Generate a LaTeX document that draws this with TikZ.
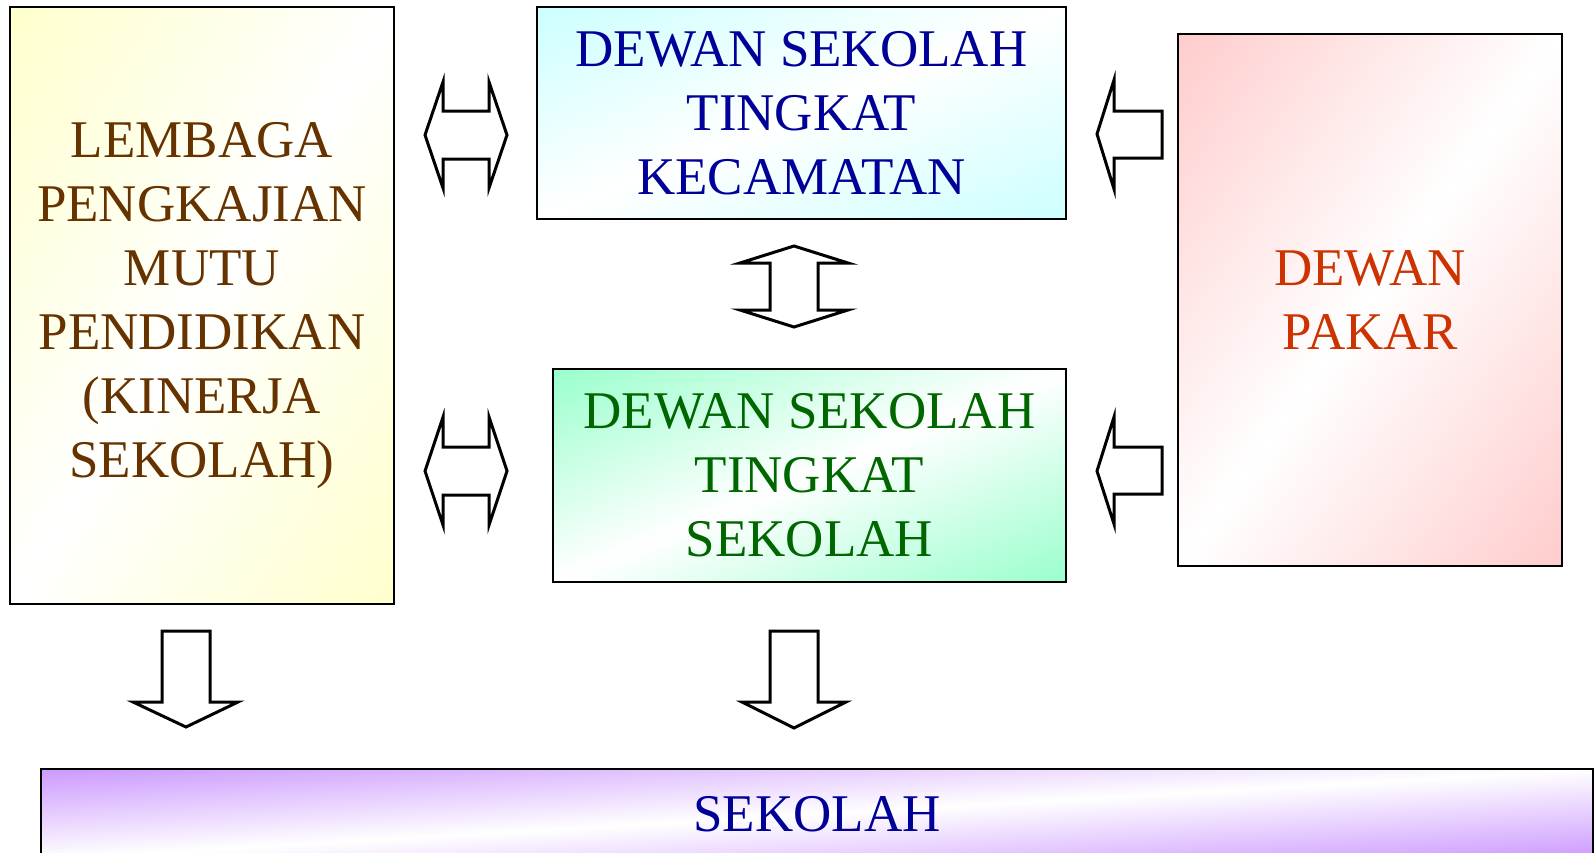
\documentclass[tikz,border=0pt]{standalone}
\usepackage{fontspec}
\setmainfont{Liberation Serif}
\definecolor{yellowc}{HTML}{FFFFCC}
\definecolor{cyanc}{HTML}{CCFFFF}
\definecolor{greenc}{HTML}{99FFCC}
\definecolor{pinkc}{HTML}{FFCCCC}
\definecolor{purplec}{HTML}{CC99FF}
\definecolor{browntxt}{HTML}{663300}
\definecolor{bluetxt}{HTML}{000099}
\definecolor{greentxt}{HTML}{006600}
\definecolor{redtxt}{HTML}{CC3300}
\pgfdeclarehorizontalshading{gyellow}{100bp}{color(0bp)=(yellowc); color(25bp)=(yellowc); color(50bp)=(white); color(75bp)=(yellowc); color(100bp)=(yellowc)}
\pgfdeclarehorizontalshading{gcyan}{100bp}{color(0bp)=(cyanc); color(25bp)=(cyanc); color(50bp)=(white); color(75bp)=(cyanc); color(100bp)=(cyanc)}
\pgfdeclarehorizontalshading{ggreen}{100bp}{color(0bp)=(greenc); color(25bp)=(greenc); color(50bp)=(white); color(75bp)=(greenc); color(100bp)=(greenc)}
\pgfdeclarehorizontalshading{gpink}{100bp}{color(0bp)=(pinkc); color(25bp)=(pinkc); color(50bp)=(white); color(75bp)=(pinkc); color(100bp)=(pinkc)}
\pgfdeclarehorizontalshading{gpurple}{100bp}{color(0bp)=(purplec); color(25bp)=(purplec); color(50bp)=(white); color(75bp)=(purplec); color(100bp)=(purplec)}
% diagonal gradient (top-left corner -> white centre -> bottom-right corner),
% stretched to the box: centre x, centre y, width, height, shading name
\newcommand\diaggrad[5]{%
  \begin{scope}[transform canvas={shift={(#1,#2)}, xscale=#3/100, yscale=#4/100}]
    \clip (-50,-50) rectangle (50,50);
    \begin{scope}[transform canvas={rotate=-45}]
      \shade[shading=#5, shading angle=0] (-70.72,-70.72) rectangle (70.72,70.72);
    \end{scope}
  \end{scope}}
\begin{document}
\begin{tikzpicture}[x=1pt,y=-1pt,
  box/.style={draw=black, line width=2.5pt, inner sep=0pt, align=center,
    font=\fontsize{53}{64}\selectfont},
  blockarrow/.style={draw=black, fill=white, line width=3pt, line join=miter}]
\useasboundingbox (0,0) rectangle (1596,852);

\diaggrad{202}{305.5}{384}{597}{gyellow}
\diaggrad{801.5}{113}{529}{212}{gcyan}
\diaggrad{809.5}{475.5}{513}{213}{ggreen}
\diaggrad{1370}{300}{384}{532}{gpink}
\diaggrad{817}{814}{1552}{90}{gpurple}

\node[box, text=browntxt, minimum width=384pt, minimum height=597pt] (lpmp) at (202,305.5)
  {LEMBAGA\\PENGKAJIAN\\MUTU\\PENDIDIKAN\\(KINERJA\\SEKOLAH)};
\node[box, text=bluetxt, minimum width=529pt, minimum height=212pt] (dstk) at (801.5,113)
  {DEWAN SEKOLAH\\TINGKAT\\KECAMATAN};
\node[box, text=greentxt, minimum width=513pt, minimum height=213pt] (dsts) at (809.5,475.5)
  {DEWAN SEKOLAH\\TINGKAT\\SEKOLAH};
\node[box, text=redtxt, minimum width=384pt, minimum height=532pt] (pakar) at (1370,300)
  {DEWAN\\PAKAR};
\node[box, text=bluetxt, minimum width=1552pt, minimum height=90pt] (sekolah) at (817,814)
  {SEKOLAH};

% double arrows between LPMP and the councils
\draw[blockarrow] (425,135) -- (443,82) -- (443,111) -- (489,111) -- (489,82) -- (507,135)
  -- (489,188) -- (489,159) -- (443,159) -- (443,188) -- cycle;
\draw[blockarrow] (425,471) -- (443,417) -- (443,447) -- (489,447) -- (489,417) -- (507,471)
  -- (489,525) -- (489,495) -- (443,495) -- (443,525) -- cycle;
% vertical double arrow
\draw[blockarrow] (794,246) -- (848,263) -- (818,263) -- (818,310) -- (848,310) -- (794,327)
  -- (740,310) -- (770,310) -- (770,263) -- (740,263) -- cycle;
% arrows from Dewan Pakar
\draw[blockarrow] (1097,134) -- (1114,80) -- (1114,111) -- (1162,111) -- (1162,158)
  -- (1114,158) -- (1114,189) -- cycle;
\draw[blockarrow] (1097,471) -- (1114,417) -- (1114,447) -- (1162,447) -- (1162,494)
  -- (1114,494) -- (1114,524) -- cycle;
% down arrows
\draw[blockarrow] (162,631) -- (210,631) -- (210,702) -- (238,702) -- (186,727)
  -- (133,702) -- (162,702) -- cycle;
\draw[blockarrow] (770,631) -- (818,631) -- (818,702) -- (846,702) -- (794,728)
  -- (742,702) -- (770,702) -- cycle;
\end{tikzpicture}
\end{document}
